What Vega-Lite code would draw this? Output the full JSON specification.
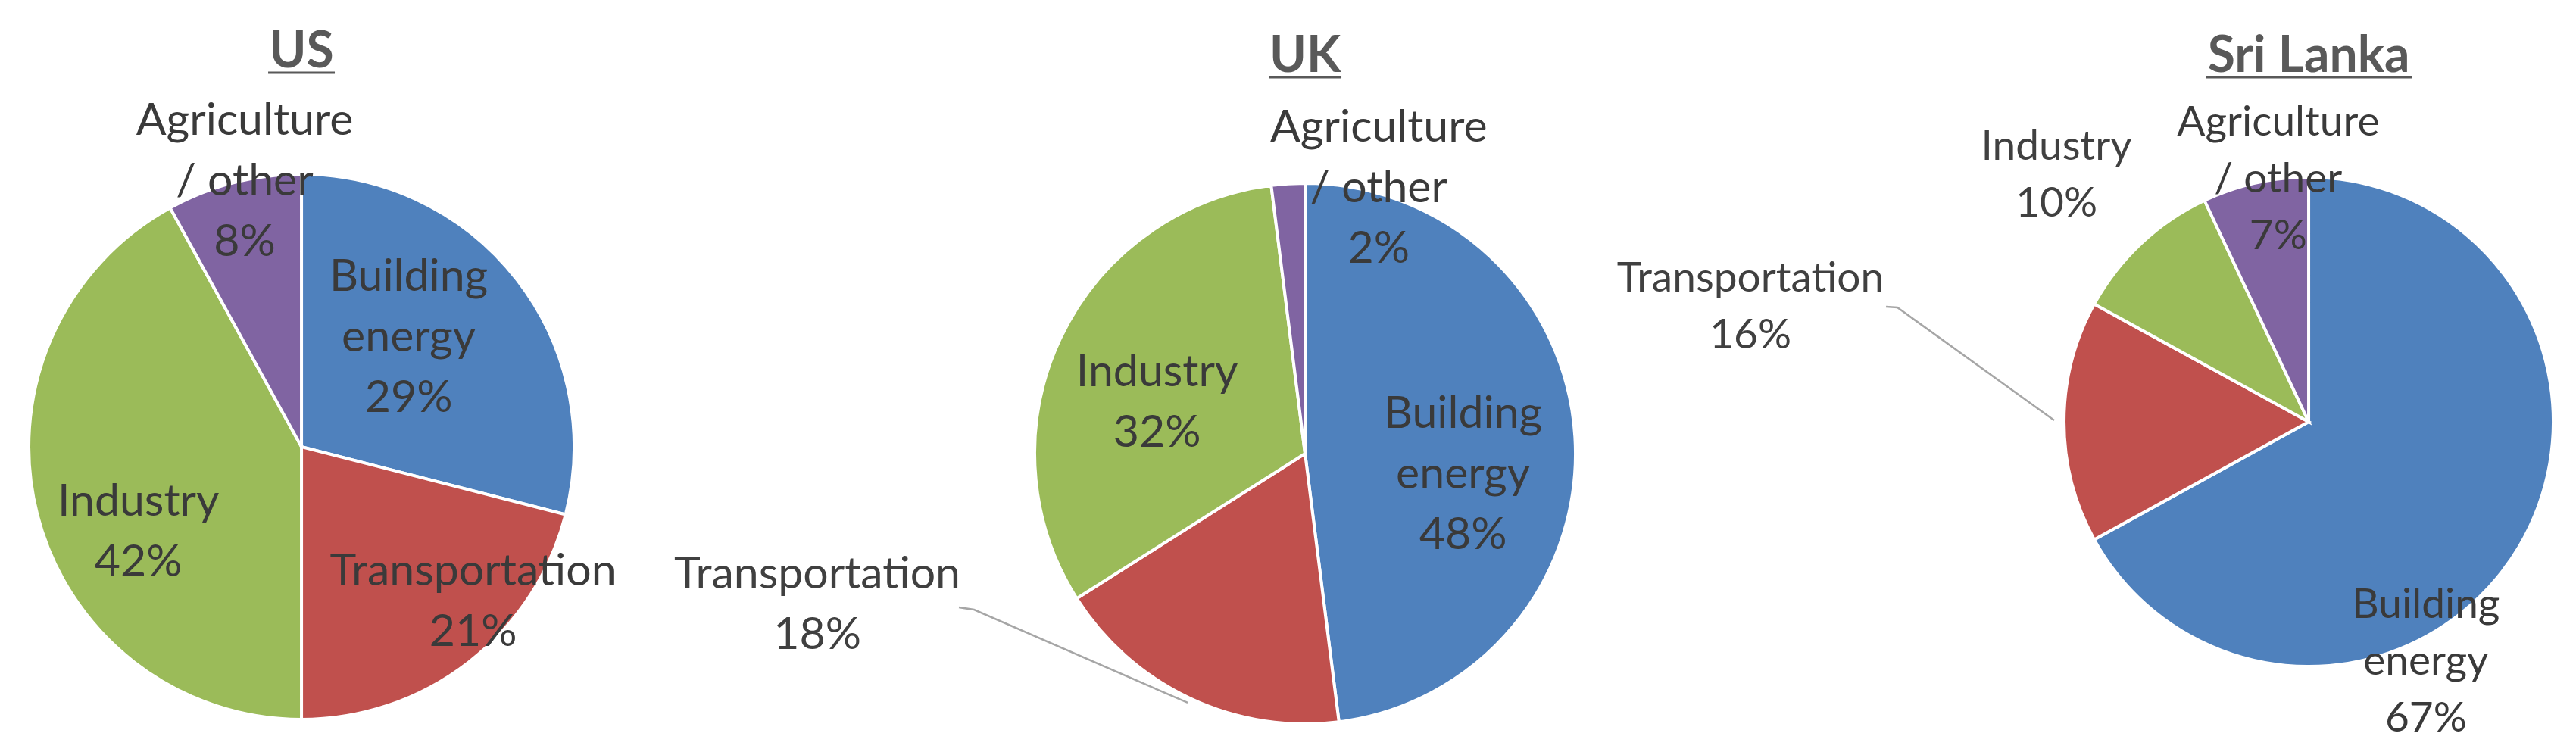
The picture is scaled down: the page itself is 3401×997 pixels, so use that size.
{
  "$schema": "https://vega.github.io/schema/vega-lite/v6.json",
  "width": 3401,
  "height": 997,
  "autosize": {"type": "none"},
  "padding": 0,
  "background": "white",
  "config": {"view": {"stroke": null}, "font": "Lato"},
  "data": {"values": [
    {"country": "US", "sector": "Building energy", "value": 29, "rank": 1, "label": "Building\nenergy\n29%"},
    {"country": "US", "sector": "Transportation", "value": 21, "rank": 2, "label": "Transportation\n21%"},
    {"country": "US", "sector": "Industry", "value": 42, "rank": 3, "label": "Industry\n42%"},
    {"country": "US", "sector": "Agriculture / other", "value": 8, "rank": 4, "label": "Agriculture\n/ other\n8%"},
    {"country": "UK", "sector": "Building energy", "value": 48, "rank": 1, "label": "Building\nenergy\n48%"},
    {"country": "UK", "sector": "Transportation", "value": 18, "rank": 2, "label": "Transportation\n18%"},
    {"country": "UK", "sector": "Industry", "value": 32, "rank": 3, "label": "Industry\n32%"},
    {"country": "UK", "sector": "Agriculture / other", "value": 2, "rank": 4, "label": "Agriculture\n/ other\n2%"},
    {"country": "Sri Lanka", "sector": "Building energy", "value": 67, "rank": 1, "label": "Building\nenergy\n67%"},
    {"country": "Sri Lanka", "sector": "Transportation", "value": 16, "rank": 2, "label": "Transportation\n16%"},
    {"country": "Sri Lanka", "sector": "Industry", "value": 10, "rank": 3, "label": "Industry\n10%"},
    {"country": "Sri Lanka", "sector": "Agriculture / other", "value": 7, "rank": 4, "label": "Agriculture\n/ other\n7%"}
  ]},
  "encoding": {
    "x": {"field": "country", "type": "nominal", "axis": null,
          "scale": {"type": "point", "domain": ["US", "UK", "Sri Lanka"], "padding": 0.2834, "align": 0.53}}
  },
  "layer": [
    {"transform": [{"filter": "datum.country === 'UK' && datum.sector === 'Transportation'"}],
     "mark": {"type": "point", "shape": "M-1,-0.417L-0.868,-0.397L1,0.417", "size": 91204, "filled": false, "stroke": "#a6a6a6", "strokeWidth": 2.5, "opacity": 1, "xOffset": -306, "yOffset": 366.5},
     "encoding": {}},
    {"transform": [{"filter": "datum.country === 'Sri Lanka' && datum.sector === 'Transportation'"}],
     "mark": {"type": "point", "shape": "M-1,-0.676L-0.865,-0.667L1,0.676", "size": 49284, "filled": false, "stroke": "#a6a6a6", "strokeWidth": 2.5, "opacity": 1, "xOffset": -447, "yOffset": -18.5},
     "encoding": {}},

    {"transform": [{"filter": "datum.country === 'US'"}],
     "mark": {"type": "arc", "radius": 360, "stroke": "white", "strokeWidth": 4, "yOffset": 91.5},
     "encoding": {
       "theta": {"field": "value", "type": "quantitative", "stack": true, "scale": {"domain": [0, 100]}},
       "order": {"field": "rank", "type": "quantitative"},
       "color": {"field": "sector", "type": "nominal", "legend": null,
                 "scale": {"domain": ["Building energy", "Transportation", "Industry", "Agriculture / other"],
                           "range": ["#4F81BD", "#C0504D", "#9BBB59", "#8064A2"]}}}},
    {"transform": [{"filter": "datum.country === 'UK'"}],
     "mark": {"type": "arc", "radius": 357, "stroke": "white", "strokeWidth": 4, "yOffset": 100.5},
     "encoding": {
       "theta": {"field": "value", "type": "quantitative", "stack": true},
       "order": {"field": "rank", "type": "quantitative"},
       "color": {"field": "sector", "type": "nominal", "legend": null}}},
    {"transform": [{"filter": "datum.country === 'Sri Lanka'"}],
     "mark": {"type": "arc", "radius": 323, "stroke": "white", "strokeWidth": 4, "yOffset": 58.5},
     "encoding": {
       "theta": {"field": "value", "type": "quantitative", "stack": true},
       "order": {"field": "rank", "type": "quantitative"},
       "color": {"field": "sector", "type": "nominal", "legend": null}}},

    {"transform": [{"filter": "datum.country === 'US'"}],
     "mark": {"type": "text", "radius": 202, "dx": -18, "dy": -8.5, "align": "center", "baseline": "middle", "font": "Lato", "fontSize": 59, "lineHeight": 80, "lineBreak": "\n", "color": "#3a3a3a"},
     "encoding": {"theta": {"field": "value", "type": "quantitative", "stack": true}, "order": {"field": "rank", "type": "quantitative"}, "detail": {"field": "sector"},
       "text": {"condition": {"test": "datum.sector === 'Building energy'", "field": "label"}, "value": ""}}},
    {"transform": [{"filter": "datum.country === 'US'"}],
     "mark": {"type": "text", "radius": 306, "dx": 39, "dy": 14.5, "align": "center", "baseline": "middle", "font": "Lato", "fontSize": 59, "lineHeight": 80, "lineBreak": "\n", "color": "#3a3a3a"},
     "encoding": {"theta": {"field": "value", "type": "quantitative", "stack": true}, "order": {"field": "rank", "type": "quantitative"}, "detail": {"field": "sector"},
       "text": {"condition": {"test": "datum.sector === 'Transportation'", "field": "label"}, "value": ""}}},
    {"transform": [{"filter": "datum.country === 'US'"}],
     "mark": {"type": "text", "radius": 243, "dx": 20, "dy": 104.5, "align": "center", "baseline": "middle", "font": "Lato", "fontSize": 59, "lineHeight": 80, "lineBreak": "\n", "color": "#3a3a3a"},
     "encoding": {"theta": {"field": "value", "type": "quantitative", "stack": true}, "order": {"field": "rank", "type": "quantitative"}, "detail": {"field": "sector"},
       "text": {"condition": {"test": "datum.sector === 'Industry'", "field": "label"}, "value": ""}}},
    {"transform": [{"filter": "datum.country === 'US'"}],
     "mark": {"type": "text", "radius": 358, "dx": 14, "dy": 8.5, "align": "center", "baseline": "middle", "font": "Lato", "fontSize": 59, "lineHeight": 80, "lineBreak": "\n", "color": "#3a3a3a"},
     "encoding": {"theta": {"field": "value", "type": "quantitative", "stack": true}, "order": {"field": "rank", "type": "quantitative"}, "detail": {"field": "sector"},
       "text": {"condition": {"test": "datum.sector === 'Agriculture / other'", "field": "label"}, "value": ""}}},

    {"transform": [{"filter": "datum.country === 'UK'"}],
     "mark": {"type": "text", "radius": 211, "dx": -2, "dy": 61.5, "align": "center", "baseline": "middle", "font": "Lato", "fontSize": 59, "lineHeight": 80, "lineBreak": "\n", "color": "#3a3a3a"},
     "encoding": {"theta": {"field": "value", "type": "quantitative", "stack": true}, "order": {"field": "rank", "type": "quantitative"}, "detail": {"field": "sector"},
       "text": {"condition": {"test": "datum.sector === 'Building energy'", "field": "label"}, "value": ""}}},
    {"transform": [{"filter": "datum.country === 'UK'"}],
     "mark": {"type": "text", "radius": 674, "dx": -357, "dy": -349.5, "align": "center", "baseline": "middle", "font": "Lato", "fontSize": 59, "lineHeight": 80, "lineBreak": "\n", "color": "#404040"},
     "encoding": {"theta": {"field": "value", "type": "quantitative", "stack": true}, "order": {"field": "rank", "type": "quantitative"}, "detail": {"field": "sector"},
       "text": {"condition": {"test": "datum.sector === 'Transportation'", "field": "label"}, "value": ""}}},
    {"transform": [{"filter": "datum.country === 'UK'"}],
     "mark": {"type": "text", "radius": 206, "dx": -9, "dy": 81.5, "align": "center", "baseline": "middle", "font": "Lato", "fontSize": 59, "lineHeight": 80, "lineBreak": "\n", "color": "#3a3a3a"},
     "encoding": {"theta": {"field": "value", "type": "quantitative", "stack": true}, "order": {"field": "rank", "type": "quantitative"}, "detail": {"field": "sector"},
       "text": {"condition": {"test": "datum.sector === 'Industry'", "field": "label"}, "value": ""}}},
    {"transform": [{"filter": "datum.country === 'UK'"}],
     "mark": {"type": "text", "radius": 363, "dx": 120, "dy": 32.5, "align": "center", "baseline": "middle", "font": "Lato", "fontSize": 59, "lineHeight": 80, "lineBreak": "\n", "color": "#3a3a3a"},
     "encoding": {"theta": {"field": "value", "type": "quantitative", "stack": true}, "order": {"field": "rank", "type": "quantitative"}, "detail": {"field": "sector"},
       "text": {"condition": {"test": "datum.sector === 'Agriculture / other'", "field": "label"}, "value": ""}}},

    {"transform": [{"filter": "datum.country === 'Sri Lanka'"}],
     "mark": {"type": "text", "radius": 353, "dx": -149, "dy": 120.5, "align": "center", "baseline": "middle", "font": "Lato", "fontSize": 55, "lineHeight": 75, "lineBreak": "\n", "color": "#3a3a3a"},
     "encoding": {"theta": {"field": "value", "type": "quantitative", "stack": true}, "order": {"field": "rank", "type": "quantitative"}, "detail": {"field": "sector"},
       "text": {"condition": {"test": "datum.sector === 'Building energy'", "field": "label"}, "value": ""}}},
    {"transform": [{"filter": "datum.country === 'Sri Lanka'"}],
     "mark": {"type": "text", "radius": 752, "dx": 15, "dy": -131, "align": "center", "baseline": "middle", "font": "Lato", "fontSize": 55, "lineHeight": 75, "lineBreak": "\n", "color": "#404040"},
     "encoding": {"theta": {"field": "value", "type": "quantitative", "stack": true}, "order": {"field": "rank", "type": "quantitative"}, "detail": {"field": "sector"},
       "text": {"condition": {"test": "datum.sector === 'Transportation'", "field": "label"}, "value": ""}}},
    {"transform": [{"filter": "datum.country === 'Sri Lanka'"}],
     "mark": {"type": "text", "radius": 466, "dx": -14, "dy": 35, "align": "center", "baseline": "middle", "font": "Lato", "fontSize": 55, "lineHeight": 75, "lineBreak": "\n", "color": "#404040"},
     "encoding": {"theta": {"field": "value", "type": "quantitative", "stack": true}, "order": {"field": "rank", "type": "quantitative"}, "detail": {"field": "sector"},
       "text": {"condition": {"test": "datum.sector === 'Industry'", "field": "label"}, "value": ""}}},
    {"transform": [{"filter": "datum.country === 'Sri Lanka'"}],
     "mark": {"type": "text", "radius": 322, "dx": 30, "dy": -22.5, "align": "center", "baseline": "middle", "font": "Lato", "fontSize": 55, "lineHeight": 75, "lineBreak": "\n", "color": "#3a3a3a"},
     "encoding": {"theta": {"field": "value", "type": "quantitative", "stack": true}, "order": {"field": "rank", "type": "quantitative"}, "detail": {"field": "sector"},
       "text": {"condition": {"test": "datum.sector === 'Agriculture / other'", "field": "label"}, "value": ""}}},

    {"transform": [{"filter": "datum.country === 'US' && datum.sector === 'Building energy'"}],
     "mark": {"type": "text", "align": "center", "baseline": "alphabetic", "dy": -410, "font": "Lato", "fontSize": 66, "fontWeight": "bold", "color": "#595959"},
     "encoding": {"text": {"field": "country"}}},
    {"transform": [{"filter": "datum.country !== 'US' && datum.sector === 'Building energy'"}],
     "mark": {"type": "text", "align": "center", "baseline": "alphabetic", "dy": -404, "font": "Lato", "fontSize": 66, "fontWeight": "bold", "color": "#595959"},
     "encoding": {"text": {"field": "country"}}},

    {"transform": [{"filter": "datum.country === 'US' && datum.sector === 'Building energy'"}],
     "mark": {"type": "tick", "orient": "horizontal", "size": 88, "thickness": 3, "color": "#595959", "opacity": 1, "yOffset": -402.5},
     "encoding": {}},
    {"transform": [{"filter": "datum.country === 'UK' && datum.sector === 'Building energy'"}],
     "mark": {"type": "tick", "orient": "horizontal", "size": 96, "thickness": 3, "color": "#595959", "opacity": 1, "yOffset": -396.5},
     "encoding": {}},
    {"transform": [{"filter": "datum.country === 'Sri Lanka' && datum.sector === 'Building energy'"}],
     "mark": {"type": "tick", "orient": "horizontal", "size": 272, "thickness": 3, "color": "#595959", "opacity": 1, "yOffset": -396.5},
     "encoding": {}}
  ]
}
